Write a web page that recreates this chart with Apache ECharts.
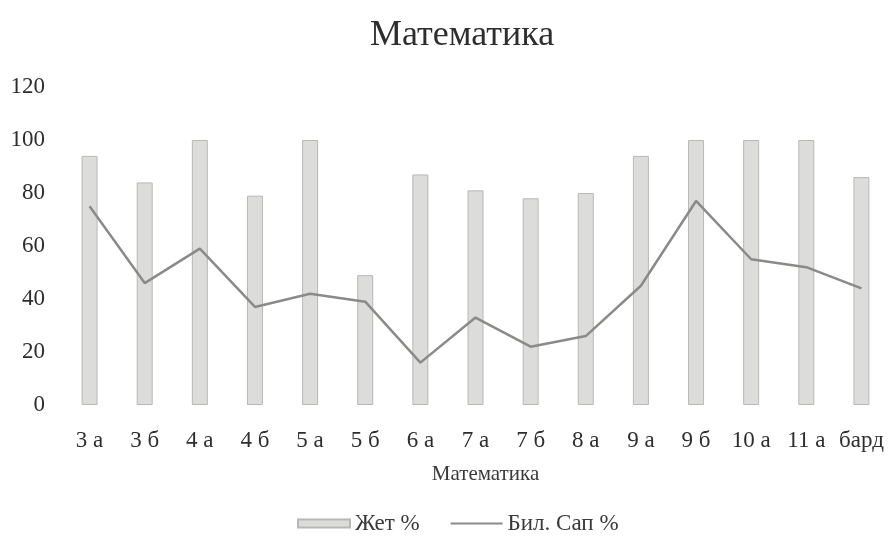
<!DOCTYPE html>
<html><head><meta charset="utf-8">
<script src="https://cdn.jsdelivr.net/npm/echarts@6/dist/echarts.min.js"></script>
<style>html,body{margin:0;padding:0;background:#fff}#c{width:889px;height:537px}</style>
</head><body><div id="c"></div>
<script>
const categories = ['3 а','3 б','4 а','4 б','5 а','5 б','6 а','7 а','7 б','8 а','9 а','9 б','10 а','11 а','бард'];
const zhetValues = [94, 84, 100, 79, 100, 49, 87, 81, 78, 80, 94, 100, 100, 100, 86];
const bilValues  = [75, 46, 59, 37, 42, 39, 16, 33, 22, 26, 45, 77, 55, 52, 44];
const yTicks = [0, 20, 40, 60, 80, 100, 120];

const font = 'Liberation Serif';
const chart = echarts.init(document.getElementById('c'), null, {renderer: 'canvas'});
chart.setOption({
  backgroundColor: '#fff',
  animation: false,
  textStyle: {fontFamily: font, color: '#333'},
  title: {text: 'Математика', left: 370, top: 18, padding: 0,
    textStyle: {fontFamily: font, fontSize: 36, fontWeight: 'normal', color: '#2e2e2e'}},
  legend: {bottom: 2, left: 297, itemGap: 30, itemWidth: 52, itemHeight: 8, padding: 0,
    textStyle: {fontFamily: font, fontSize: 23, color: '#3a3a3a'},
    data: [{name: 'Жет %', icon: 'rect'}, {name: 'Бил. Сап %', itemStyle: {opacity: 0}}]},
  grid: {left: 62, right: 0, top: 87, bottom: 132},
  xAxis: {type: 'category', data: categories,
    name: 'Математика', nameLocation: 'middle', nameGap: 59,
    nameTextStyle: {fontFamily: font, fontSize: 21, color: '#3a3a3a', padding: [0, 0, 0, 20]},
    axisLine: {show: false}, axisTick: {show: false},
    axisLabel: {fontFamily: font, fontSize: 23, color: '#2e2e2e', margin: 24, interval: 0}},
  yAxis: {type: 'value', min: yTicks[0], max: yTicks[yTicks.length-1], interval: 20,
    axisLine: {show: false}, axisTick: {show: false}, splitLine: {show: false},
    axisLabel: {fontFamily: font, fontSize: 23, color: '#2e2e2e', margin: 17}},
  series: [
    {name: 'Жет %', type: 'bar', data: zhetValues, barWidth: 16,
      itemStyle: {color: '#dcdcda', borderColor: '#b8b8b6', borderWidth: 1}},
    {name: 'Бил. Сап %', type: 'line', data: bilValues, symbol: 'none',
      lineStyle: {color: '#8a8a88', width: 2.5}, itemStyle: {color: '#8a8a88'}}
  ]
});
</script></body></html>
